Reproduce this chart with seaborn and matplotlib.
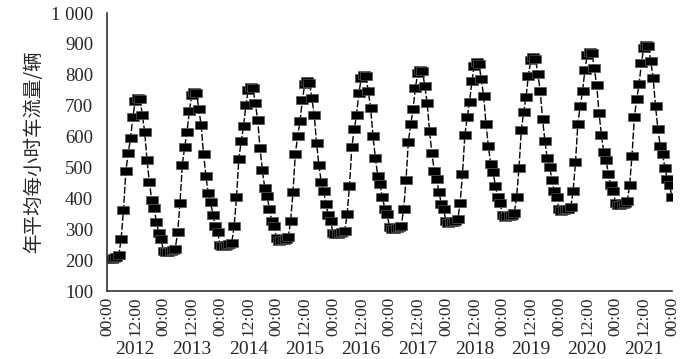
import numpy as np
import pandas as pd
import matplotlib
matplotlib.use("Agg")
import matplotlib.pyplot as plt
import matplotlib.transforms as mtransforms
import seaborn as sns

years = ["2012", "2013", "2014", "2015", "2016", "2017", "2018", "2019", "2020", "2021"]
hours = list(range(1, 25))

v2012 = [203, 205, 207, 210, 215, 268, 362, 488, 546, 595, 664, 715, 725, 720, 670, 616, 524, 452, 395, 368, 324, 287, 268, 228]
v2013 = [225, 227, 229, 232, 237, 290, 384, 509, 567, 616, 684, 735, 745, 740, 690, 636, 545, 473, 416, 389, 346, 309, 290, 250]
v2014 = [245, 247, 249, 252, 257, 310, 403, 527, 585, 633, 702, 752, 762, 757, 708, 654, 563, 492, 435, 408, 365, 328, 310, 270]
v2015 = [262, 264, 266, 269, 274, 327, 420, 544, 602, 650, 719, 769, 779, 774, 725, 671, 580, 509, 452, 425, 382, 345, 327, 287]
v2016 = [283, 285, 287, 290, 295, 348, 441, 565, 623, 671, 740, 790, 800, 795, 746, 692, 601, 530, 473, 446, 403, 366, 348, 308]
v2017 = [300, 302, 304, 307, 312, 365, 458, 582, 640, 688, 757, 807, 817, 812, 763, 709, 618, 547, 490, 463, 420, 383, 365, 325]
v2018 = [320, 322, 324, 327, 332, 385, 479, 604, 662, 711, 779, 830, 840, 835, 785, 731, 640, 568, 511, 484, 441, 404, 385, 345]
v2019 = [340, 342, 344, 347, 352, 405, 498, 622, 680, 728, 797, 847, 857, 852, 803, 749, 658, 587, 530, 503, 460, 423, 405, 365]
v2020 = [360, 362, 364, 367, 372, 424, 517, 641, 698, 747, 815, 865, 875, 870, 821, 767, 677, 606, 550, 523, 479, 443, 424, 385]
v2021 = [378, 380, 382, 385, 390, 443, 537, 662, 720, 769, 837, 888, 898, 893, 843, 789, 698, 626, 569, 542, 499, 462, 443, 403]

series = [v2012, v2013, v2014, v2015, v2016, v2017, v2018, v2019, v2020, v2021]

xtick_labels = ["00:00", "12:00"] * 10 + ["00:00"]
ytick_values = [100, 200, 300, 400, 500, 600, 700, 800, 900, 1000]
ytick_labels = ["100", "200", "300", "400", "500", "600", "700", "800", "900", "1 000"]
ylabel = "年平均每小时车流量/辆"

rows = []
for yi, (yr, vals) in enumerate(zip(years, series)):
    for h, v in zip(hours, vals):
        rows.append({"year": yr, "pos": yi * 24 + h, "value": v})
df = pd.DataFrame(rows)

sns.set_theme(style="white")
plt.rcParams["font.family"] = ["Liberation Serif", "Noto Sans CJK SC"]

fig = plt.figure(figsize=(7.0, 3.59), dpi=100)
ax = fig.add_axes([107 / 700, 1 - 291 / 359, (672 - 107) / 700, (291 - 13) / 359])

rect = [(-1, -0.6), (1, -0.6), (1, 0.6), (-1, 0.6), (-1, -0.6)]
sns.lineplot(data=df, x="pos", y="value", ax=ax, color="black", lw=1.0,
             linestyle=(0, (5, 1.5)), marker=rect, markersize=8.5,
             markerfacecolor="black", markeredgecolor="#555555", markeredgewidth=0.5,
             estimator=None, sort=True, legend=False)

ax.set_xlim(0, 240)
ax.set_ylim(100, 1000)
ax.set_xticks(list(range(0, 241, 12)))
ax.set_xticklabels(xtick_labels, rotation=90, fontsize=12.5)
ax.set_yticks(ytick_values)
ax.set_yticklabels(ytick_labels, fontsize=13.5)
ax.tick_params(axis="x", direction="in", length=6, width=1.0, color="#333333", pad=4)
ax.tick_params(axis="y", direction="in", length=8, width=1.0, color="#333333", pad=10)
ax.set_xlabel("")
ax.set_ylabel(ylabel, fontsize=14, family=["Noto Sans CJK SC", "DejaVu Sans"])
ax.yaxis.set_label_coords(-0.112, 0.5)

for s in ["top", "right"]:
    ax.spines[s].set_visible(False)
for s in ["left", "bottom"]:
    ax.spines[s].set_color("#333333")
    ax.spines[s].set_linewidth(1.2)

trans = mtransforms.blended_transform_factory(ax.transData, fig.transFigure)
for yi, yr in enumerate(years):
    ax.text(yi * 24 + 12, 1 - 350 / 359, yr, transform=trans, ha="center", va="center",
            fontsize=14)

fig.savefig("out.png", dpi=100)
